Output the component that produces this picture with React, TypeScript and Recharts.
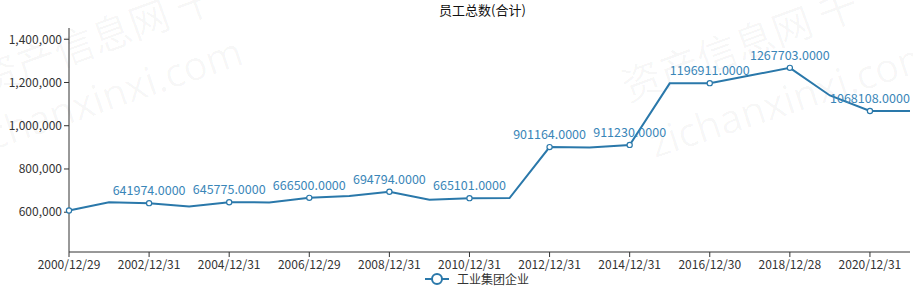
import React from "react";
import { LineChart, Line, XAxis, YAxis, Legend, LabelList } from "recharts";

const dates = [
  "2000/12/29", "2001/12/31", "2002/12/31", "2003/12/31", "2004/12/31", "2005/12/30",
  "2006/12/29", "2007/12/28", "2008/12/31", "2009/12/31", "2010/12/31", "2011/12/30",
  "2012/12/31", "2013/12/31", "2014/12/31", "2015/12/31", "2016/12/30", "2017/12/29",
  "2018/12/28", "2019/12/31", "2020/12/31", "2021/12/31",
];

const employees = [
  608000, 646000, 641974, 626000, 645775, 645500,
  666500, 675000, 694794, 658000, 665101, 665500,
  901164, 899000, 911230, 1196000, 1196911, 1232000,
  1267703, 1140000, 1068108, 1068000,
];

const yTicks = [600000, 800000, 1000000, 1200000, 1400000];

const data = dates.map((d, i) => ({ date: d, value: employees[i] }));

const LINE = "#2a78aa";
const LABEL = "#3a86b8";
const FONT = "'Noto Sans CJK SC', 'Noto Sans', sans-serif";

const fmt = (v: number) => v.toLocaleString("en-US");

// only every other point gets a marker
const Dot = (props: any) => {
  const { cx, cy, index } = props;
  if (index % 2 !== 0) return <g key={index} />;
  return <circle key={index} cx={cx} cy={cy} r={2.6} fill="#fff" stroke={LINE} strokeWidth={1.2} />;
};

// value labels on the marked points, the first one stays hidden
const ValueLabel = (props: any) => {
  const { x, y, value, index } = props;
  if (index % 2 !== 0 || index === 0) return null;
  return (
    <text x={x} y={y - 8} textAnchor="middle" fill={LABEL} fontSize={12.5} fontFamily={FONT}>
      {Number(value).toFixed(4)}
    </text>
  );
};

const LegendContent = () => (
  <div style={{ display: "flex", justifyContent: "center", alignItems: "center", fontFamily: FONT, fontSize: 12, color: "#333" }}>
    <svg width={24} height={14} style={{ marginRight: 8, marginLeft: 44 }}>
      <line x1={0} y1={7} x2={24} y2={7} stroke={LINE} strokeWidth={2} />
      <circle cx={12} cy={7} r={5} fill="#fff" stroke={LINE} strokeWidth={2} />
    </svg>
    <span>工业集团企业</span>
  </div>
);

const Watermark = () => (
  <svg width={913} height={292} style={{ position: "absolute", left: 0, top: 0, pointerEvents: "none" }}>
    <g fill="#000" fillOpacity={0.035} fontFamily={FONT}>
      <text x={-15} y={95} fontSize={40} transform="rotate(-20 -15 95)">资产信息网 千</text>
      <text x={-35} y={160} fontSize={40} fontFamily="'Open Sans', sans-serif" transform="rotate(-19 -35 160)">zichanxinxi.com</text>
      <text x={628} y={102} fontSize={40} transform="rotate(-20 628 102)">资产信息网 千</text>
      <text x={655} y={158} fontSize={40} fontFamily="'Open Sans', sans-serif" transform="rotate(-18 655 158)">zichanxinxi.com</text>
    </g>
  </svg>
);

export default function App() {
  return (
    <div style={{ position: "relative", width: 913, height: 292, background: "#fff" }}>
      <style>{"body{margin:0}"}</style>
      <Watermark />
      <div style={{ position: "absolute", left: 0, top: 0, width: 913, textAlign: "center", paddingLeft: 52, boxSizing: "border-box", fontFamily: FONT, fontSize: 13, color: "#111" }}>
        员工总数(合计)
      </div>
      <div style={{ position: "absolute", left: 0, top: 0 }}>
        <LineChart width={913} height={292} data={data} margin={{ top: 28, right: 3, bottom: 0, left: 0 }}>
          <XAxis
            dataKey="date"
            interval={1}
            tick={{ fill: "#333", fontSize: 12, fontFamily: FONT }}
            tickSize={5}
            tickMargin={3}
            axisLine={{ stroke: "#333" }}
            tickLine={{ stroke: "#333" }}
            height={20}
          />
          <YAxis
            width={69}
            domain={[416000, 1452000]}
            ticks={yTicks}
            tickFormatter={fmt}
            tick={{ fill: "#333", fontSize: 12, fontFamily: FONT }}
            tickSize={5}
            tickMargin={2}
            axisLine={{ stroke: "#333" }}
            tickLine={{ stroke: "#333" }}
            allowDataOverflow
          />
          <Legend verticalAlign="bottom" height={20} content={<LegendContent />} wrapperStyle={{ bottom: 2 }} />
          <Line
            type="linear"
            dataKey="value"
            name="工业集团企业"
            stroke={LINE}
            strokeWidth={2}
            dot={<Dot />}
            activeDot={false}
            isAnimationActive={false}
          >
            <LabelList dataKey="value" content={<ValueLabel />} />
          </Line>
        </LineChart>
      </div>
    </div>
  );
}
